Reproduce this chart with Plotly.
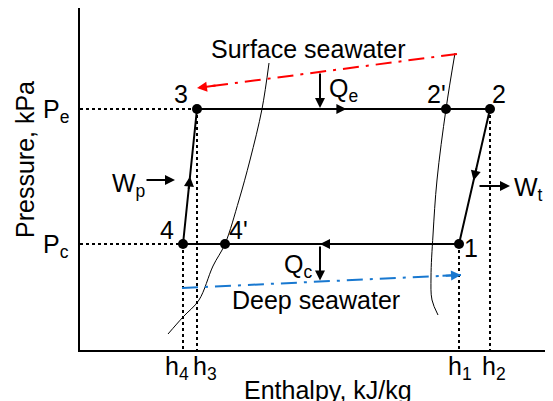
import plotly.graph_objects as go

# ---- data (arbitrary enthalpy / pressure units) ----
h4, h3, h4p, h2p, h1, h2 = 103, 117, 145, 366, 379, 410
Pc, Pe = 106, 241

cycle_x = [h4, h3, h2p, h2, h1, h4p, h4]
cycle_y = [Pc, Pe, Pe, Pe, Pc, Pc, Pc]

state_names = ["3", "2'", "2", "1", "4", "4'"]
state_x = [h3, h2p, h2, h1, h4, h4p]
state_y = [Pe, Pe, Pe, Pc, Pc, Pc]

left_sat_x = [88, 103, 119, 133, 145, 159, 170, 182, 189]
left_sat_y = [16, 33, 50, 84, 106, 150, 190, 241, 287]
right_sat_x = [358, 352, 351, 353, 357, 366, 375]
right_sat_y = [35, 50, 73, 115, 170, 241, 297]

surface_x = [377, 117]
surface_y = [296, 262]
deep_x = [102, 381]
deep_y = [62, 75]

q_x = 240
wp_x, wp_y = [65, 95], 170
wt_x, wt_y = [398, 430], 164

XR, YR = 473, 342
FONT = "Liberation Sans"
FS = 25

fig = go.Figure()

# dotted guide lines
dot = dict(color="black", width=2, dash="dot")
for (xs, ys) in [([0, h3], [Pe, Pe]), ([0, h4], [Pc, Pc]),
                 ([h4, h4], [Pc, 0]), ([h3, h3], [Pe, 0]),
                 ([h1, h1], [Pc, 0]), ([h2, h2], [Pe, 0])]:
    fig.add_trace(go.Scatter(x=xs, y=ys, mode="lines", line=dot))

# saturation curves
for xs, ys in [(left_sat_x, left_sat_y), (right_sat_x, right_sat_y)]:
    fig.add_trace(go.Scatter(x=xs, y=ys, mode="lines",
                             line=dict(color="black", width=1, shape="spline")))

# seawater lines
fig.add_trace(go.Scatter(x=surface_x, y=surface_y, mode="lines",
                         line=dict(color="#ff0000", width=2, dash="16px,7px,3px,7px")))
fig.add_trace(go.Scatter(x=deep_x, y=deep_y, mode="lines",
                         line=dict(color="#1878d0", width=2, dash="16px,7px,3px,7px")))

# cycle
fig.add_trace(go.Scatter(x=cycle_x, y=cycle_y, mode="lines",
                         line=dict(color="black", width=2)))
fig.add_trace(go.Scatter(x=state_x, y=state_y, mode="markers",
                         marker=dict(color="black", size=10)))

def arrow(x0, y0, x1, y1, color="black", w=2, size=1.0):
    fig.add_annotation(x=x1, y=y1, ax=x0, ay=y0, xref="x", yref="y",
                       axref="x", ayref="y", showarrow=True, arrowhead=2,
                       arrowsize=size, arrowwidth=w, arrowcolor=color,
                       standoff=0, startstandoff=0, text="")

def mid_arrow(xa, ya, xb, yb, frac, length=14):
    tx = xa + (xb - xa) * frac
    ty = ya + (yb - ya) * frac
    dx, dy = xb - xa, yb - ya
    n = (dx * dx + dy * dy) ** 0.5
    arrow(tx - dx / n * length, ty - dy / n * length, tx, ty)

mid_arrow(h3, Pe, h2p, Pe, 0.60)
mid_arrow(h2, Pe, h1, Pc, 0.53)
mid_arrow(h1, Pc, h4p, Pc, 0.594)
mid_arrow(h4, Pc, h3, Pe, 0.50)

def line_y(xs, ys, x):
    return ys[0] + (ys[1] - ys[0]) * (x - xs[0]) / (xs[1] - xs[0])

arrow(surface_x[1] + 20, line_y(surface_x, surface_y, surface_x[1] + 20),
      surface_x[1], surface_y[1], color="#ff0000")
arrow(deep_x[1] - 20, line_y(deep_x, deep_y, deep_x[1] - 20),
      deep_x[1], deep_y[1], color="#1878d0")

# heat and work arrows
arrow(q_x, line_y(surface_x, surface_y, q_x), q_x, Pe + 1)
arrow(q_x, Pc - 1, q_x, line_y(deep_x, deep_y, q_x) + 1)
arrow(wp_x[0], wp_y, wp_x[1], wp_y)
arrow(wt_x[0], wt_y, wt_x[1], wt_y)

def label(x, y, text, xanchor="center", yanchor="middle", size=FS, angle=0):
    # position given in axis units, placed via paper coordinates so that
    # labels outside the plotting area are still drawn
    fig.add_annotation(x=x / XR, y=y / YR, xref="paper", yref="paper", text=text,
                       showarrow=False, xanchor=xanchor, yanchor=yanchor,
                       textangle=angle,
                       font=dict(family=FONT, size=size, color="black"))

label_pos = {"3": (101, 256), "2'": (356, 256), "2": (419, 256),
             "1": (391, 102), "4": (87, 120), "4'": (158, 120)}
for nm in state_names:
    label(*label_pos[nm], nm)

label(247, 260, "Q<sub>e</sub>", xanchor="left")
label(218, 84, "Q<sub>c</sub>")
label(48, 165, "W<sub>p</sub>")
label(448, 161, "W<sub>t</sub>")
label(228, 301, "Surface seawater")
label(236, 50, "Deep seawater")

label(-9, Pe - 2, "P<sub>e</sub>", xanchor="right")
label(-9, Pc - 2, "P<sub>c</sub>", xanchor="right")
for hx, txt, off in [(h4, "h<sub>4</sub>", -6), (h3, "h<sub>3</sub>", 8),
                     (h1, "h<sub>1</sub>", 1), (h2, "h<sub>2</sub>", 4)]:
    label(hx + off, -18, txt)

label(248, -40, "Enthalpy, kJ/kg")
label(-55, 190, "Pressure, kPa", angle=-90)

# the page body adds an 8 px offset, so the figure is 8 px smaller
fig.update_layout(
    width=545, height=393, showlegend=False,
    margin=dict(l=72, r=0, t=0, b=51),
    paper_bgcolor="white", plot_bgcolor="white",
    xaxis=dict(range=[0, XR], showgrid=False, zeroline=False, showticklabels=False,
               ticks="", showline=True, linecolor="black", linewidth=2, fixedrange=True),
    yaxis=dict(range=[0, YR], showgrid=False, zeroline=False, showticklabels=False,
               ticks="", showline=True, linecolor="black", linewidth=2, fixedrange=True),
)
fig.update_traces(hoverinfo="skip", cliponaxis=False)

fig.write_html("out.html")
